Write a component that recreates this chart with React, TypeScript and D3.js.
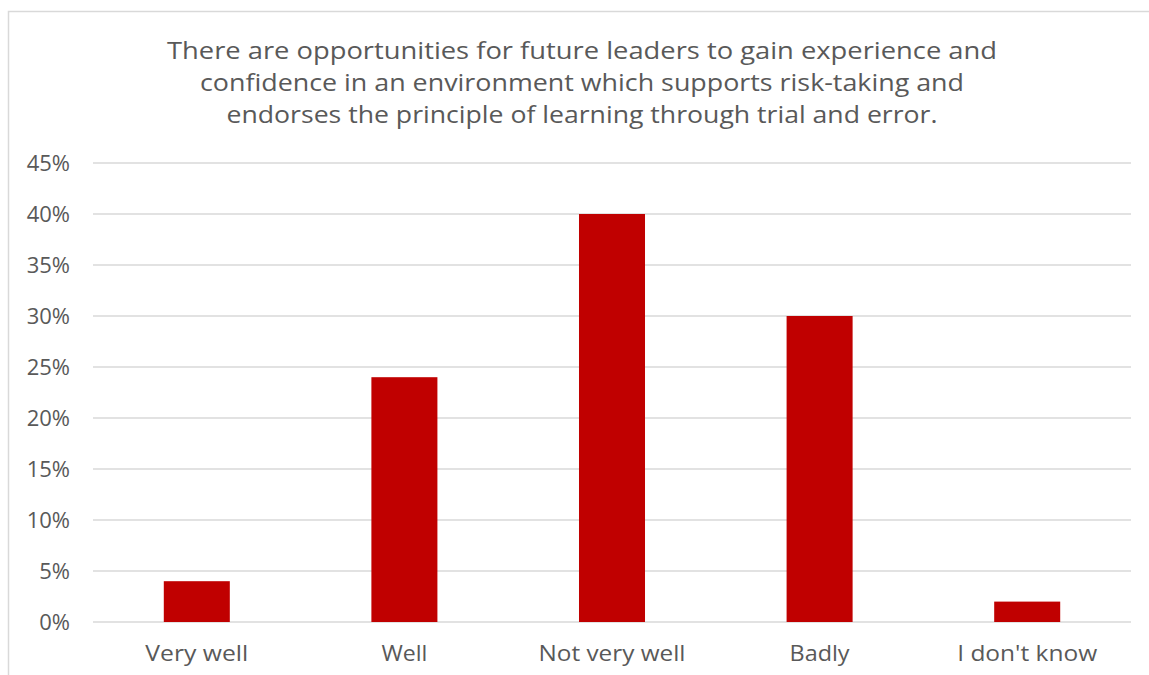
import React from "react";
import * as d3 from "d3";

const categories = ["Very well", "Well", "Not very well", "Badly", "I don't know"];
const values = [0.04, 0.24, 0.40, 0.30, 0.02];
const yTicks = [0, 0.05, 0.1, 0.15, 0.2, 0.25, 0.3, 0.35, 0.4, 0.45];
const titleLines = [
  "There are opportunities for future leaders to gain experience and",
  "confidence in an environment which supports risk-taking and",
  "endorses the principle of learning through trial and error.",
];
const titleWidths = [830, 764, 711];
const labelWidths = [103, 46, 147, 60, 140];

const W = 1149;
const H = 675;
const FONT = "'Open Sans', 'DejaVu Sans', sans-serif";
const TEXT = "#595959";

export default function App() {
  const x = d3.scaleBand<string>().domain(categories).range([93, 1131]).paddingInner(0.682).paddingOuter(0.341);
  const y = d3.scaleLinear().domain([0, 0.45]).range([622, 163]);
  const fmt = d3.format(".0%");
  return (
    <svg width={W} height={H} style={{ position: "absolute", left: 0, top: 0, background: "#fff" }}>
      <rect x={8.5} y={11.5} width={W + 20} height={H + 20} fill="#fff" stroke="#d9d9d9" strokeWidth={1.5} />
      {titleLines.map((t, i) => (
        <text
          key={i}
          x={582}
          y={59 + i * 32}
          textAnchor="middle"
          fontFamily={FONT}
          fontSize={24}
          fill={TEXT}
          textLength={titleWidths[i]}
          lengthAdjust="spacingAndGlyphs"
        >
          {t}
        </text>
      ))}
      {yTicks.map((t) => (
        <g key={t}>
          <line x1={93} x2={1131} y1={y(t)} y2={y(t)} stroke="#d9d9d9" strokeWidth={1.5} />
          <text x={70} y={y(t)} dy="0.36em" textAnchor="end" fontFamily={FONT} fontSize={22} fill={TEXT}>
            {fmt(t)}
          </text>
        </g>
      ))}
      {categories.map((c, i) => (
        <rect key={c} x={x(c)} y={y(values[i])} width={x.bandwidth()} height={y(0) - y(values[i])} fill="#C00000" />
      ))}
      {categories.map((c, i) => (
        <text
          key={c}
          x={(x(c) as number) + x.bandwidth() / 2}
          y={661}
          textAnchor="middle"
          fontFamily={FONT}
          fontSize={22}
          fill={TEXT}
          textLength={labelWidths[i]}
          lengthAdjust="spacingAndGlyphs"
        >
          {c}
        </text>
      ))}
    </svg>
  );
}
